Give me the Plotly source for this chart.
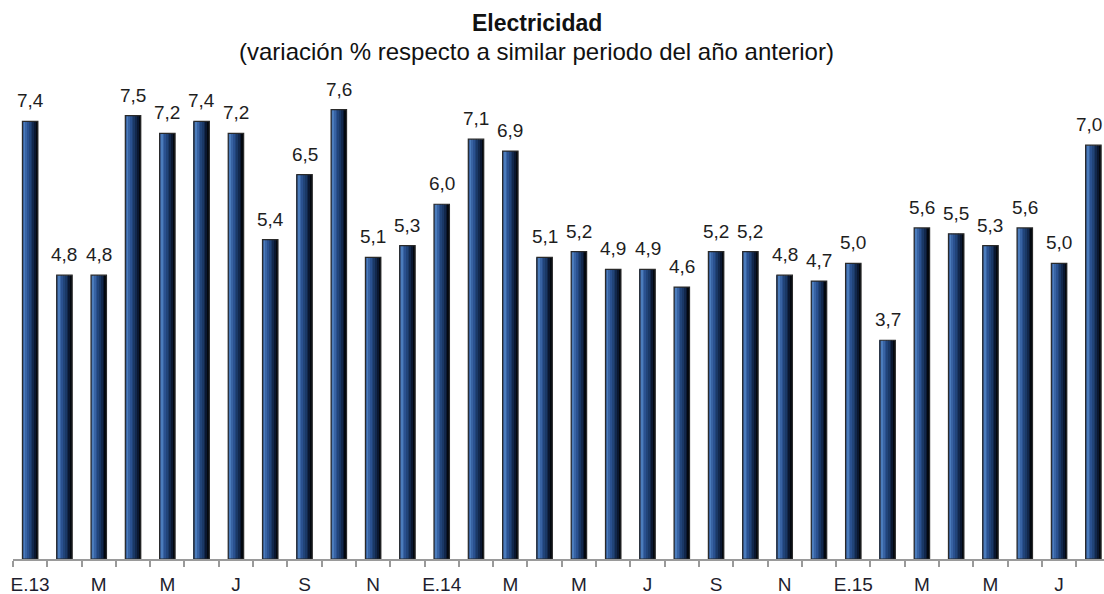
import plotly.graph_objects as go

values = [7.4, 4.8, 4.8, 7.5, 7.2, 7.4, 7.2, 5.4, 6.5, 7.6, 5.1, 5.3,
          6.0, 7.1, 6.9, 5.1, 5.2, 4.9, 4.9, 4.6, 5.2, 5.2, 4.8, 4.7,
          5.0, 3.7, 5.6, 5.5, 5.3, 5.6, 5.0, 7.0]
tick_positions = list(range(0, 32, 2))
tick_labels = ["E.13", "M", "M", "J", "S", "N", "E.14", "M", "M", "J", "S", "N",
               "E.15", "M", "M", "J"]
title_text = "Electricidad"
subtitle_text = "(variación % respecto a similar periodo del año anterior)"
labels = [f"{v:.1f}".replace(".", ",") for v in values]
x = list(range(len(values)))

FONT = "Liberation Sans, Arial"
BAR_W = 0.45
stripe_colors = ["#3a62a0", "#4b7cbc", "#3863a3", "#2a5190", "#214479",
                 "#1a3866", "#12284c", "#0a1730", "#03080f"]
n = len(stripe_colors)
sw = BAR_W / n

fig = go.Figure()
for k, c in enumerate(stripe_colors):
    fig.add_trace(go.Bar(
        x=x, y=values, width=[sw * 1.05] * len(x),
        offset=-BAR_W / 2 + k * sw,
        marker=dict(color=c, line=dict(width=0)),
        hoverinfo="skip", showlegend=False))
# outline
fig.add_trace(go.Bar(
    x=x, y=values, width=[BAR_W] * len(x), offset=-BAR_W / 2,
    marker=dict(color="rgba(0,0,0,0)", line=dict(color="#2a2a2a", width=1.2)),
    hoverinfo="skip", showlegend=False))

last = len(x) - 1
for xi, v, t in zip(x, values, labels):
    fig.add_annotation(x=xi, y=v, text=t, showarrow=False, yanchor="bottom",
                       yshift=8, xshift=(-4 if xi == last else 0),
                       font=dict(family=FONT, size=19, color="#1e1e1e"))

fig.add_annotation(xref="paper", yref="paper", x=0.48, y=1.133, yanchor="middle",
                   text=f"<b>{title_text}</b>", showarrow=False,
                   font=dict(family=FONT, size=23, color="#111"))
fig.add_annotation(xref="paper", yref="paper", x=0.48, y=1.072, yanchor="middle",
                   text=subtitle_text, showarrow=False,
                   font=dict(family=FONT, size=24, color="#111"))

fig.update_layout(
    barmode="overlay",
    width=1104, height=594,
    margin=dict(l=13, r=0, t=86, b=35, autoexpand=False),
    paper_bgcolor="white", plot_bgcolor="white",
    showlegend=False,
)
fig.update_xaxes(
    range=[-0.5, 31.31], tickvals=tick_positions, ticktext=tick_labels,
    ticks="", showgrid=False, zeroline=False, automargin=False,
    showline=True, linecolor="#9a9a9a", linewidth=1.5,
    ticklabelstandoff=7,
    tickfont=dict(family=FONT, size=19, color="#1e1e2e"),
    minor=dict(tick0=-0.5, dtick=1, ticks="outside", ticklen=6,
               tickcolor="#9a9a9a", tickwidth=1.5, showgrid=False),
)
fig.update_yaxes(range=[0, 8], visible=False, showgrid=False, zeroline=False)

fig.write_html("out.html", config={"displayModeBar": False},
               post_script="document.body.style.margin='0';")
